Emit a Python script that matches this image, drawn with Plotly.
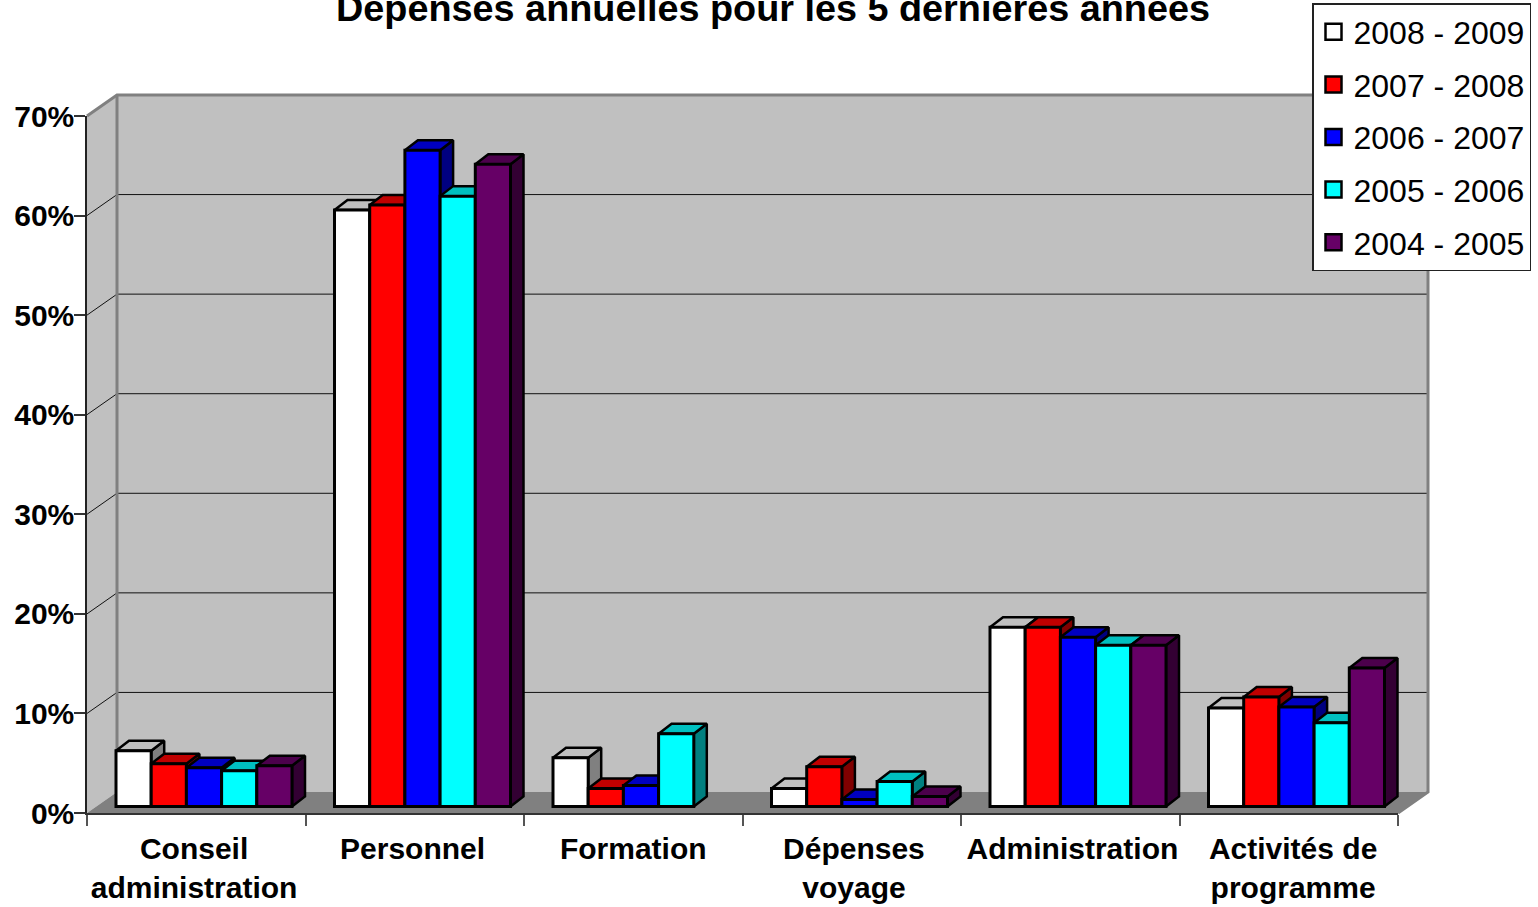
import plotly.graph_objects as go

# ---- data ----
categories = ["Conseil<br>administration", "Personnel", "Formation", "Dépenses<br>voyage", "Administration", "Activités de<br>programme"]
series_names = ["2008 - 2009", "2007 - 2008", "2006 - 2007", "2005 - 2006", "2004 - 2005"]
v2008_2009 = [5.6, 59.9, 4.9, 1.8, 18.0, 9.9]
v2007_2008 = [4.3, 60.4, 1.8, 4.0, 18.0, 11.0]
v2006_2007 = [3.9, 65.9, 2.1, 0.7, 17.0, 10.0]
v2005_2006 = [3.6, 61.3, 7.3, 2.5, 16.2, 8.4]
v2004_2005 = [4.1, 64.5, None, 1.0, 16.2, 13.9]
series_values = [v2008_2009, v2007_2008, v2006_2007, v2005_2006, v2004_2005]
y_ticks = [0, 10, 20, 30, 40, 50, 60, 70]
title = "Dépenses annuelles pour les 5 dernières années"

# ---- style ----
front = ["#FFFFFF", "#FF0000", "#0000FF", "#00FFFF", "#660066"]
top_c = ["#C0C0C0", "#C00000", "#0000C0", "#00C0C0", "#4C004C"]
side_c = ["#808080", "#800000", "#000080", "#008080", "#330033"]
FONT = "Liberation Sans, Arial, sans-serif"
W, H = 1538, 907
PX_L, PX_R_FRONT, PX_R_BACK = 87, 1398, 1428
PX_B, PX_T_FRONT, PX_T_BACK = 813, 116, 95
PAD = 3
UX = (PX_R_FRONT - PX_L) / 6
UY = (PX_B - PX_T_FRONT) / 70
XMAX = (PX_R_BACK - PX_L) / UX
YMAX = (PX_B - PX_T_BACK) / UY
WALL_DX = 30 / UX
WALL_DY = 21 / UY
BAR_W = 35.2 / UX
BAR_START = 29 / UX
BAR_BASE = 6.5 / UY
BAR_DX = 13 / UX
BAR_DY = 10 / UY
GRAY = "#808080"
WALL = "#C0C0C0"
LABEL_X = [0.49, 1.49, 2.50, 3.51, 4.51, 5.52]

fig = go.Figure()


def poly(xs, ys, fill=None, line=None, lw=1, ax=("x", "y")):
    fig.add_trace(go.Scatter(
        x=xs, y=ys, mode="lines", xaxis=ax[0], yaxis=ax[1], showlegend=False, hoverinfo="skip",
        fill="toself" if fill else None, fillcolor=fill,
        line=dict(color=line or "rgba(0,0,0,0)", width=lw),
    ))


# walls and floor
poly([WALL_DX, XMAX, XMAX, WALL_DX, WALL_DX], [WALL_DY, WALL_DY, YMAX, YMAX, WALL_DY], fill=WALL)
poly([0, WALL_DX, WALL_DX, 0, 0], [0, WALL_DY, 70 + WALL_DY, 70, 0], fill=WALL)
poly([0, 6, XMAX, WALL_DX, 0], [0, 0, WALL_DY, WALL_DY, 0], fill=GRAY)
# grid
for t in y_ticks[1:-1]:
    poly([0, WALL_DX, XMAX], [t, t + WALL_DY, t + WALL_DY], line="#111111", lw=1)
# wall edges
poly([0, WALL_DX, XMAX, XMAX, 6], [70, 70 + WALL_DY, 70 + WALL_DY, WALL_DY, 0], line=GRAY, lw=3)
poly([WALL_DX, WALL_DX], [WALL_DY, 70 + WALL_DY], line=GRAY, lw=3)

# 3D faces and fronts of the bars
for i in range(len(categories)):
    for j, vals in enumerate(series_values):
        v = vals[i]
        if v is None:
            continue
        x0 = i + BAR_START + j * BAR_W
        x1 = x0 + BAR_W
        y1 = BAR_BASE + v
        poly([x1, x1 + BAR_DX, x1 + BAR_DX, x1, x1], [BAR_BASE, BAR_BASE + BAR_DY, y1 + BAR_DY, y1, BAR_BASE],
             fill=side_c[j], line="#000000", lw=2.5)
        poly([x0, x1, x1 + BAR_DX, x0 + BAR_DX, x0], [y1, y1, y1 + BAR_DY, y1 + BAR_DY, y1],
             fill=top_c[j], line="#000000", lw=2.5)

for j, vals in enumerate(series_values):
    xs = [i + BAR_START + (j + 0.5) * BAR_W for i in range(len(categories))]
    fig.add_trace(go.Bar(
        x=xs, y=vals, base=BAR_BASE, width=BAR_W, xaxis="x2", yaxis="y2", showlegend=False,
        marker=dict(color=front[j], line=dict(color="#000000", width=3)),
        hovertemplate=series_names[j] + ": %{y}%<extra></extra>",
    ))

# invisible carrier for the axes with ticks (drawn above the scene)
fig.add_trace(go.Scatter(x=[None], y=[None], xaxis="x3", yaxis="y3", showlegend=False, hoverinfo="skip"))

# legend entries
for j, name in enumerate(series_names):
    fig.add_trace(go.Scatter(
        x=[None], y=[None], mode="markers", name=name, legendgroup=name, xaxis="x3", yaxis="y3",
        marker=dict(symbol="square", size=16, color=front[j], line=dict(color="#000000", width=2.5)),
    ))

scene_x = [(PX_L - PAD) / W, (PX_R_BACK + PAD) / W]
scene_y = [1 - (PX_B + PAD) / H, 1 - (PX_T_BACK - PAD) / H]
range_x = [-PAD / UX, XMAX + PAD / UX]
range_y = [-PAD / UY, YMAX + PAD / UY]
hidden = dict(visible=False, fixedrange=True)
fig.update_layout(
    width=W, height=H, margin=dict(l=0, r=0, t=0, b=0, autoexpand=False), autosize=False,
    paper_bgcolor="#FFFFFF", plot_bgcolor="rgba(0,0,0,0)", barmode="overlay", showlegend=True,
    font=dict(family=FONT, color="#000000"),
    title=dict(text=title, x=773 / W, xanchor="center", y=1 - 8 / H, yanchor="middle",
               font=dict(family=FONT, size=37.8, color="#000000", weight="bold")),
    legend=dict(x=1312 / W, xanchor="left", y=1 - 3 / H, yanchor="top", bgcolor="#FFFFFF",
                bordercolor="#222222", borderwidth=1.5, traceorder="grouped", tracegroupgap=8,
                font=dict(family=FONT, size=32, color="#000000")),
    xaxis=dict(domain=scene_x, range=range_x, **hidden),
    yaxis=dict(domain=scene_y, range=range_y, **hidden),
    xaxis2=dict(domain=scene_x, range=range_x, anchor="y2", **hidden),
    yaxis2=dict(domain=scene_y, range=range_y, anchor="x2", **hidden),
    xaxis3=dict(domain=[PX_L / W, PX_R_FRONT / W], range=[0, 6], anchor="y3", fixedrange=True,
                tickmode="array", tickvals=LABEL_X, ticktext=categories,
                ticks="", showgrid=False, zeroline=False, showline=True, linecolor="#333333", linewidth=1.5,
                ticklabelstandoff=8,
                tickfont=dict(family=FONT, size=30, color="#000000", weight="bold"),
                minor=dict(tickmode="array", tickvals=list(range(7)), ticks="outside", ticklen=11,
                           tickcolor="#555555", tickwidth=1.5, showgrid=False)),
    yaxis3=dict(domain=[1 - PX_B / H, 1 - PX_T_FRONT / H], range=[0, 70], anchor="x3", fixedrange=True,
                tickmode="array", tickvals=y_ticks, ticktext=[f"{t}%" for t in y_ticks],
                ticks="", showgrid=False, zeroline=False, showline=True, linecolor="#222222", linewidth=1.5,
                ticklabelstandoff=5,
                tickfont=dict(family=FONT, size=30, color="#000000", weight="bold"),
                minor=dict(tickmode="array", tickvals=y_ticks, ticks="outside", ticklen=11,
                           tickcolor="#333333", tickwidth=1.5, showgrid=False)),
)

fig.write_html("out.html", config={"displayModeBar": False}, post_script="document.body.style.margin='0';")
